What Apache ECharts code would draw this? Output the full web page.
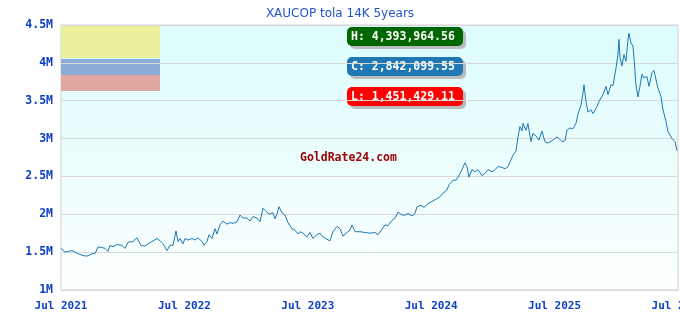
<!DOCTYPE html>
<html>
<head>
<meta charset="utf-8">
<script src="https://cdn.jsdelivr.net/npm/echarts@6/dist/echarts.min.js"></script>
<style>
  html, body { margin: 0; padding: 0; background: #fff; }
  #chart { width: 680px; height: 320px; }
</style>
</head>
<body>
<div id="chart"></div>
<script>
// months since Jul 2021
var months = [0, 0.39, 0.68, 1.07, 1.36, 1.65, 2.04, 2.33, 2.63, 3.01, 3.31, 3.60, 3.99, 4.28, 4.57, 4.76, 5.06, 5.45, 5.93, 6.22,
  6.52, 7.00, 7.39, 7.49, 7.78, 8.17, 8.46, 8.85, 9.34, 9.63, 9.92, 10.31, 10.60, 10.89, 11.18, 11.38, 11.57, 11.86, 12.06, 12.35,
  12.74, 13.03, 13.32, 13.71, 13.91, 14.20, 14.39, 14.68, 14.98, 15.17, 15.46, 15.75, 16.14, 16.43, 16.73, 17.11, 17.41, 17.70, 18.09, 18.38,
  18.67, 19.06, 19.35, 19.64, 19.93, 20.23, 20.61, 20.81, 21.00, 21.20, 21.49, 21.78, 22.07, 22.46, 22.75, 23.05, 23.24, 23.53, 23.92, 24.21,
  24.50, 24.89, 25.19, 25.48, 25.87, 26.16, 26.45, 26.84, 27.13, 27.42, 27.81, 28.10, 28.30, 28.59, 29.07, 29.56, 30.05, 30.53, 30.83, 31.21,
  31.51, 31.80, 32.19, 32.48, 32.77, 33.16, 33.45, 33.74, 34.13, 34.42, 34.62, 35.01, 35.30, 35.69, 36.08, 36.47, 36.85, 37.15, 37.53, 37.73,
  38.12, 38.41, 38.70, 38.99, 39.28, 39.48, 39.67, 39.97, 40.26, 40.55, 40.94, 41.23, 41.52, 41.91, 42.20, 42.49, 42.88, 43.17, 43.47, 43.76,
  43.95, 44.24, 44.44, 44.63, 44.83, 44.93, 45.22, 45.41, 45.70, 45.90, 46.29, 46.48, 46.77, 47.06, 47.36, 47.55, 47.84, 48.23, 48.43, 48.72,
  49.01, 49.20, 49.50, 49.79, 50.08, 50.27, 50.56, 50.76, 50.86, 51.05, 51.25, 51.54, 51.73, 52.12, 52.32, 52.70, 53.00, 53.19, 53.48, 53.68,
  53.97, 54.16, 54.26, 54.36, 54.55, 54.75, 54.94, 55.14, 55.23, 55.43, 55.62, 55.72, 55.91, 56.01, 56.11, 56.30, 56.50, 56.69, 56.98, 57.18,
  57.47, 57.66, 57.86, 58.05, 58.34, 58.54, 58.83, 59.03, 59.42, 59.71, 59.90];
// price in millions COP
var priceM = [1.55, 1.50, 1.51, 1.52, 1.50, 1.48, 1.46, 1.45, 1.45, 1.48, 1.48, 1.57, 1.56, 1.55, 1.51, 1.59, 1.57, 1.60, 1.59, 1.55,
  1.63, 1.64, 1.69, 1.66, 1.59, 1.58, 1.61, 1.64, 1.68, 1.65, 1.61, 1.52, 1.59, 1.59, 1.78, 1.64, 1.68, 1.61, 1.68, 1.66,
  1.68, 1.66, 1.69, 1.64, 1.59, 1.64, 1.73, 1.68, 1.81, 1.74, 1.86, 1.91, 1.87, 1.89, 1.88, 1.90, 1.99, 1.95, 1.95, 1.91,
  1.97, 1.95, 1.90, 2.08, 2.04, 2.00, 2.02, 1.94, 2.00, 2.10, 2.02, 1.99, 1.89, 1.81, 1.79, 1.74, 1.77, 1.75, 1.70, 1.76,
  1.68, 1.73, 1.75, 1.70, 1.67, 1.65, 1.77, 1.84, 1.81, 1.71, 1.76, 1.79, 1.86, 1.77, 1.77, 1.76, 1.75, 1.76, 1.73, 1.80,
  1.86, 1.85, 1.92, 1.95, 2.03, 1.99, 1.99, 2.01, 1.98, 2.01, 2.10, 2.12, 2.09, 2.14, 2.17, 2.20, 2.23, 2.28, 2.32, 2.39,
  2.45, 2.45, 2.51, 2.59, 2.68, 2.63, 2.49, 2.59, 2.56, 2.59, 2.51, 2.54, 2.59, 2.56, 2.59, 2.63, 2.62, 2.60, 2.63, 2.72,
  2.78, 2.83, 3.02, 3.16, 3.10, 3.20, 3.11, 3.20, 2.96, 3.07, 3.02, 2.98, 3.10, 2.96, 2.94, 2.95, 2.98, 3.02, 3.00, 2.96,
  2.97, 3.11, 3.14, 3.13, 3.20, 3.32, 3.44, 3.60, 3.71, 3.49, 3.35, 3.38, 3.33, 3.42, 3.49, 3.58, 3.69, 3.58, 3.71, 3.70,
  3.93, 4.11, 4.31, 4.07, 3.96, 4.11, 4.02, 4.31, 4.39, 4.26, 4.22, 4.07, 3.71, 3.69, 3.55, 3.69, 3.85, 3.80, 3.82, 3.69,
  3.87, 3.90, 3.78, 3.67, 3.56, 3.38, 3.23, 3.09, 3.00, 2.96, 2.84];
var highText = 'H: 4,393,964.56';
var closeText = 'C: 2,842,099.55';
var lowText = 'L: 1,451,429.11';

var chart = echarts.init(document.getElementById('chart'));
var seriesData = months.map(function (m, i) { return [m, priceM[i] * 1e6]; });

function badge(y, text, color) {
  return {
    type: 'group', left: 347, top: y, z: 10,
    children: [
      { type: 'rect', shape: { x: 0, y: 0, width: 116, height: 19, r: 5 },
        style: { fill: color, shadowColor: '#bbbbbb', shadowOffsetX: 3, shadowOffsetY: 3 } },
      { type: 'text', x: 4, y: 4,
        style: { text: text, fill: '#ffffff', font: 'bold 11.5px "DejaVu Sans Mono"' } }
    ]
  };
}

var option = {
  animation: false,
  title: {
    text: 'XAUCOP tola 14K 5years', left: 'center', top: 3,
    textStyle: { fontFamily: 'DejaVu Sans', fontSize: 12, fontWeight: 'normal', color: '#2255cc' }
  },
  grid: {
    left: 61, right: 2, top: 25, bottom: 30, show: true,
    outerBoundsMode: 'none',
    borderColor: '#d0d0d0', borderWidth: 1,
    backgroundColor: new echarts.graphic.LinearGradient(0, 0, 0, 1, [
      { offset: 0, color: '#dcfcfc' }, { offset: 1, color: '#fcffff' }
    ])
  },
  xAxis: {
    type: 'value', min: 0, max: 60, interval: 12,
    axisLine: { show: false }, axisTick: { show: false }, splitLine: { show: false },
    axisLabel: {
      margin: 11, color: '#1040c8', fontFamily: 'DejaVu Sans Mono', fontWeight: 'bold', fontSize: 11,
      formatter: function (v) { return 'Jul ' + (2021 + v / 12); }
    }
  },
  yAxis: {
    type: 'value', min: 1e6, max: 4.5e6, interval: 5e5,
    axisLine: { show: false }, axisTick: { show: false },
    splitLine: { lineStyle: { color: '#d8d8d8' } },
    axisLabel: {
      margin: 8, color: '#1040c8', fontFamily: 'DejaVu Sans Mono', fontWeight: 'bold', fontSize: 11.5,
      formatter: function (v) { return (v / 1e6) + 'M'; }
    }
  },
  graphic: [
    { type: 'rect', left: 61, top: 26, z: 0, shape: { width: 99, height: 32 }, style: { fill: '#ebee9b' } },
    { type: 'rect', left: 61, top: 59, z: 0, shape: { width: 99, height: 16 }, style: { fill: '#8aadd8' } },
    { type: 'rect', left: 61, top: 75, z: 0, shape: { width: 99, height: 16 }, style: { fill: '#e0a6a0' } },
    { type: 'text', left: 300, top: 152, z: 1, style: { text: 'GoldRate24.com', fill: '#990000', font: 'bold 11.5px "DejaVu Sans Mono"' } },
    badge(27, highText, '#006600'),
    badge(57, closeText, '#1f77b4'),
    badge(87, lowText, '#ff0000')
  ],
  series: [{
    type: 'line', data: seriesData, showSymbol: false,
    lineStyle: { color: '#1f77b4', width: 1 }
  }]
};
chart.setOption(option);
</script>
</body>
</html>
